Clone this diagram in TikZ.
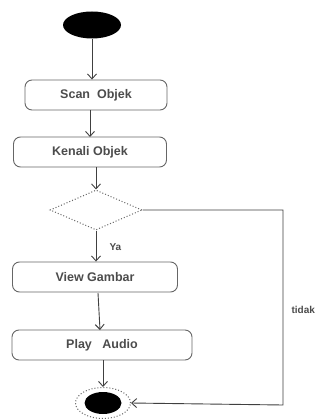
\documentclass[tikz,border=0pt]{standalone}
\usepackage{fontspec}
\setmainfont{Liberation Sans}
\usetikzlibrary{arrows.meta,shapes.geometric}
\begin{document}
\begin{tikzpicture}[x=1pt,y=-1pt,
  ln/.style={draw=black!75,line width=0.9pt},
  arr/.style={ln,-{Straight Barb[length=5pt,width=9pt]}},
  act/.style={ln,draw=black!60,rounded corners=7pt,minimum height=30pt,inner sep=0pt,
    font=\fontsize{12.5}{14}\selectfont\bfseries, text=black!70},
  lbl/.style={font=\fontsize{10}{12}\selectfont\bfseries,text=black!70}]
\useasboundingbox (0,0) rectangle (326,419);
\fill[white] (0,0) rectangle (326,419);
\node[ellipse,fill=black,minimum width=58pt,minimum height=27pt,inner sep=0pt] (start) at (92,25) {};
\node[act,minimum width=142pt] (scan) at (96,95) {Scan\ \ Objek};
\node[act,minimum width=153pt] (kenali) at (90,152) {Kenali Objek};
\node[diamond,draw=black!60,dotted,line width=1pt,minimum width=92pt,minimum height=40pt,inner sep=0pt] (dec) at (96,210) {};
\node[act,minimum width=165pt] (view) at (95,277) {View Gambar};
\node[act,minimum width=180pt] (play) at (102,345) {Play\ \ \ Audio};
\node[ellipse,draw=black!60,dotted,line width=1pt,minimum width=55pt,minimum height=31pt,inner sep=0pt] (endo) at (103,403) {};
\node[ellipse,fill=black,minimum width=37pt,minimum height=22pt,inner sep=0pt] (endi) at (103,403) {};
\coordinate (c1) at (283,210);
\coordinate (c2) at (283,405);
\draw[arr] (start.south) -- (start.south |- scan.north);
\draw[arr] (90,110) -- (90,137);
\draw[arr] (dec.north |- kenali.south) -- (dec.north);
\draw[arr] (dec.south) -- (dec.south |- view.north);
\draw[arr] (98,293) -- (100,330);
\draw[arr] (play.south -| endo.north) -- (endo.north);
\draw[arr] (dec.east) -- (c1) -- (c2) -- (endo.east);
\node[lbl,anchor=west] (ya) at (106,247) {Ya};
\node[lbl,anchor=west] (tidak) at (288,310) {tidak};
\end{tikzpicture}
\end{document}
